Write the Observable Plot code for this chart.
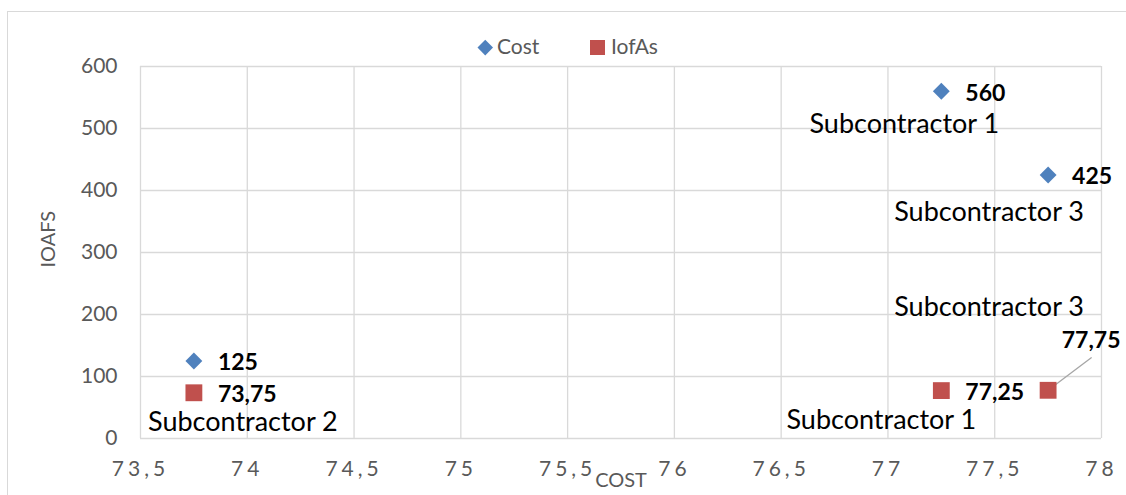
<!DOCTYPE html>
<html>
<head>
<meta charset="utf-8">
<script src="https://cdn.jsdelivr.net/npm/d3@7"></script>
<script src="https://cdn.jsdelivr.net/npm/@observablehq/plot@0.6"></script>
<style>
  html, body { margin: 0; padding: 0; background: #fff; }
  #wrap { position: relative; width: 1126px; height: 495px; overflow: hidden; font-family: Lato, "Open Sans", sans-serif; }
  #border { position: absolute; left: 7px; top: 11px; width: 1300px; height: 700px; border: 1.5px solid #d9d9d9; box-sizing: border-box; }
  #chart { position: absolute; left: 0; top: 0; }
  #legend { position: absolute; left: 0; top: 0; width: 1126px; height: 60px; font-size: 21px; color: #595959; }
  .lg-item { position: absolute; top: 33px; line-height: 26px; }
  .lg-sym { position: absolute; }
  #chart svg g[aria-label="x-axis tick label"] text { letter-spacing: 4px; }
</style>
</head>
<body>
<div id="wrap">
  <div id="border"></div>
  <div id="chart"></div>
  <div id="legend"></div>
</div>
<script>
// ---- data ----
const seriesNames = ["Cost", "IofAs"];
const seriesColors = ["#4f81bd", "#c0504d"];
const subcontractors = ["Subcontractor 1", "Subcontractor 2", "Subcontractor 3"];
const costX = [77.25, 73.75, 77.75];
const costY = [560, 125, 425];
const iofasX = [77.25, 73.75, 77.75];
const iofasY = [77.25, 73.75, 77.75];
const xTicks = [73.5, 74, 74.5, 75, 75.5, 76, 76.5, 77, 77.5, 78];
const yTicks = [0, 100, 200, 300, 400, 500, 600];
const xTitle = "COST";
const yTitle = "IOAFS";

// ---- build tables ----
const cost = costX.map((x, i) => ({x, y: costY[i], name: subcontractors[i], i}));
const iofas = iofasX.map((x, i) => ({x, y: iofasY[i], name: subcontractors[i], i}));
const fmt = d => String(d).replace(".", ",");

const grid = {stroke: "#d9d9d9", strokeOpacity: 1, strokeWidth: 1.3};
const valueStyle = {fontWeight: "bold", fontSize: 23, fill: "#000"};
const nameStyle = {fontSize: 27, fill: "#000"};
const pick = k => (d) => d.i === k;

const leader = {
  draw(context, l) { context.moveTo(0, 0); context.lineTo(0, -l); }
};

const chart = Plot.plot({
  width: 1126,
  height: 495,
  marginLeft: 140,
  marginRight: 25,
  marginTop: 66,
  marginBottom: 57,
  x: {domain: [73.5, 78]},
  y: {domain: [0, 600]},
  style: {fontFamily: "Lato, 'Open Sans', sans-serif", background: "transparent", overflow: "visible"},
  marks: [
    Plot.gridX(xTicks, grid),
    Plot.gridY(yTicks, grid),
    Plot.axisX(xTicks, {tickSize: 0, tickPadding: 23, tickFormat: fmt, fontSize: 21, fill: "#595959", label: null}),
    Plot.axisY(yTicks, {tickSize: 0, tickPadding: 23, fontSize: 21, fill: "#595959", label: null}),
    Plot.text([xTitle], {frameAnchor: "bottom", dy: 48, fontSize: 20, fill: "#595959"}),
    Plot.text([yTitle], {frameAnchor: "left", dx: -92, dy: 15, rotate: -90, fontSize: 20, fill: "#595959"}),
    Plot.vector(iofas, {filter: pick(2), x: "x", y: "y", rotate: 53, length: 54, anchor: "start", shape: leader, stroke: "#a6a6a6", strokeWidth: 1.3}),
    Plot.dot(cost, {x: "x", y: "y", symbol: "diamond2", r: 7.6, fill: seriesColors[0], stroke: "none"}),
    Plot.dot(iofas, {x: "x", y: "y", symbol: "square", r: 9.5, fill: seriesColors[1], stroke: "none"}),
    Plot.text(cost, {x: "x", y: "y", text: d => fmt(d.y), textAnchor: "start", dx: 24, dy: 2, ...valueStyle}),
    Plot.text(iofas, {filter: d => d.i < 2, x: "x", y: "y", text: d => fmt(d.y), textAnchor: "start", dx: 24, dy: 2, ...valueStyle}),
    Plot.text(iofas, {filter: pick(2), x: "x", y: "y", text: d => fmt(d.y), dx: 43, dy: -50, ...valueStyle}),
    Plot.text(cost, {filter: pick(0), x: "x", y: "y", text: "name", dx: -37, dy: 33, ...nameStyle}),
    Plot.text(cost, {filter: pick(2), x: "x", y: "y", text: "name", dx: -59, dy: 37, ...nameStyle}),
    Plot.text(iofas, {filter: pick(0), x: "x", y: "y", text: "name", dx: -60, dy: 30, ...nameStyle}),
    Plot.text(iofas, {filter: pick(1), x: "x", y: "y", text: "name", dx: 49, dy: 30, ...nameStyle}),
    Plot.text(iofas, {filter: pick(2), x: "x", y: "y", text: "name", dx: -59, dy: -83, ...nameStyle})
  ]
});
document.getElementById("chart").appendChild(chart);

// ---- legend ----
const legend = document.getElementById("legend");
const lgPos = [{sym: 478, txt: 497}, {sym: 590, txt: 611}];
seriesNames.forEach((name, k) => {
  const s = document.createElement("div");
  s.className = "lg-sym";
  if (k === 0) {
    s.style.cssText = `left:${lgPos[k].sym + 2}px;top:42px;width:10.5px;height:10.5px;background:${seriesColors[k]};transform:rotate(45deg);`;
  } else {
    s.style.cssText = `left:${lgPos[k].sym}px;top:40px;width:15px;height:15px;background:${seriesColors[k]};`;
  }
  legend.appendChild(s);
  const t = document.createElement("div");
  t.className = "lg-item";
  t.style.left = lgPos[k].txt + "px";
  t.textContent = name;
  legend.appendChild(t);
});
</script>
</body>
</html>
